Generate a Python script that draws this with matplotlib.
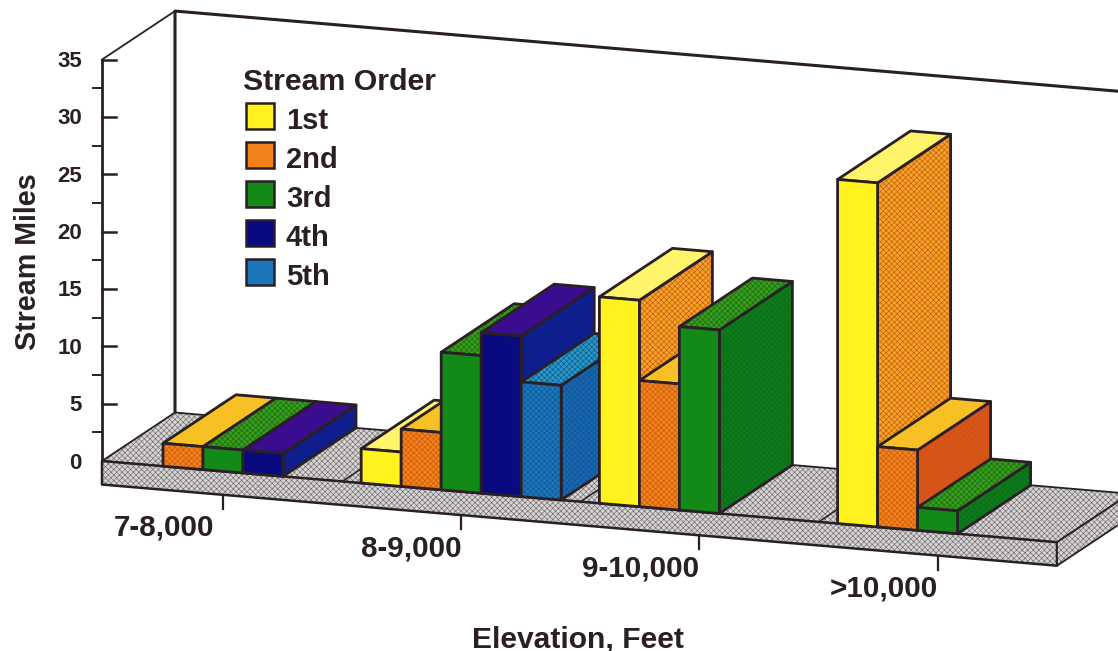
import matplotlib
matplotlib.use("Agg")
import matplotlib.pyplot as plt
from matplotlib.patches import Polygon, Rectangle

plt.rcParams['font.family'] = ['Liberation Sans', 'DejaVu Sans']
plt.rcParams['font.weight'] = 'bold'
plt.rcParams['hatch.linewidth'] = 0.45

# stream miles per elevation band, one list per stream order
categories = ['7-8,000', '8-9,000', '9-10,000', '>10,000']
orders = ['1st', '2nd', '3rd', '4th', '5th']
miles_1st = [0, 3, 18, 30]
miles_2nd = [2, 5, 11, 7]
miles_3rd = [2, 12, 16, 2]
miles_4th = [2, 14, 0, 0]
miles_5th = [0, 10, 0, 0]
major_ticks = [0, 5, 10, 15, 20, 25, 30, 35]
minor_ticks = [2.5, 7.5, 12.5, 17.5, 22.5, 27.5, 32.5]

front_col = ['#FFF21E', '#F2821A', '#138A18', '#0A0A80', '#1C76BC']
top_col = ['#FFF46A', '#F7C024', '#3E9A1C', '#3A0D8E', '#2898C4']
side_col = ['#F4A428', '#DC541C', '#0E7A1E', '#0E1E8C', '#1866B2']
# darker dots printed over some of the faces, None for the flat colours
dot_col = [None, '#C9570F', '#0C6E12', None, '#0F5590']
ink = '#2A1F24'


def project(slot, depth, value):
    # oblique projection of the fake 3d box: slot along the floor, depth 0-1, value in miles
    x = 123 + slot * 40 + depth * 73
    y = 462.8 + slot * 3.4 - depth * 48.5 - value * 11.47
    return (x, y)


def face(ax, corners, color, lw=2, dots=None, z=2):
    pts = [project(*c) for c in corners]
    ax.add_patch(Polygon(pts, closed=True, facecolor=color, edgecolor='none', zorder=z))
    if dots is not None:
        ax.add_patch(Polygon(pts, closed=True, facecolor='none', edgecolor=dots, linewidth=0,
                             hatch='xxxxxx', zorder=z))
    ax.add_patch(Polygon(pts, closed=True, facecolor='none', edgecolor=ink, linewidth=lw,
                         zorder=z, joinstyle='round'))


def draw_bar(ax, slot, value, order):
    s0, s1 = slot, slot + 1
    face(ax, [(s1, 0, 0), (s1, 1, 0), (s1, 1, value), (s1, 0, value)], side_col[order], dots=dot_col[order] or ('#C9570F' if order == 0 else None))
    face(ax, [(s0, 0, value), (s1, 0, value), (s1, 1, value), (s0, 1, value)], top_col[order], dots=dot_col[order] if order in (2, 4) else None)
    face(ax, [(s0, 0, 0), (s1, 0, 0), (s1, 0, value), (s0, 0, value)], front_col[order], dots=dot_col[order] if order in (1, 4) else None)


fig = plt.figure(figsize=(11.18, 6.51), dpi=100)
ax = fig.add_axes([0, 0, 1, 1])
ax.set_xlim(0, 1118)
ax.set_ylim(651, 0)
ax.axis('off')

floor_l, floor_r = -0.525, 23.35
slab = -2.05  # slab thickness in value units
floor_col = '#D6D4D4'
floor_dots = '#6E6A6A'

# wall outline
ax.plot(*zip(project(floor_l, 0, 35), project(floor_l, 1, 35)), color=ink, lw=1.3, zorder=1)
ax.plot(*zip(project(floor_l, 1, 0), project(floor_l, 1, 35), project(floor_r + 2, 1, 35)),
        color=ink, lw=2.2, zorder=1)
ax.plot(*zip(project(floor_l, 0, 35), project(floor_l, 0, 0)), color=ink, lw=2, zorder=1)

# axis ticks
for v in major_ticks:
    x, y = project(floor_l, 0, v)
    ax.plot([x, x + 14], [y, y], color=ink, lw=1.8, zorder=1)
    ax.text(82, y + 2, str(v), ha='right', va='center', fontsize=16, color=ink)
for v in minor_ticks:
    x, y = project(floor_l, 0, v)
    ax.plot([x - 9, x], [y, y], color=ink, lw=1.4, zorder=1)

# floor slab
face(ax, [(floor_l, 0, 0), (floor_r, 0, 0), (floor_r, 1, 0), (floor_l, 1, 0)], floor_col, 1.3, floor_dots, 1.5)
face(ax, [(floor_l, 0, slab), (floor_r, 0, slab), (floor_r, 0, 0), (floor_l, 0, 0)], floor_col, 1.8, floor_dots, 1.6)
face(ax, [(floor_r, 0, slab), (floor_r, 1, slab), (floor_r, 1, 0), (floor_r, 0, 0)], floor_col, 1.3, floor_dots, 1.6)

all_miles = [miles_1st, miles_2nd, miles_3rd, miles_4th, miles_5th]
group_step = 5.955

for g, name in enumerate(categories):
    start = g * group_step
    # floor divider between the bands
    if g > 0:
        ax.plot(*zip(project(start - 0.475, 0, 0), project(start - 0.475, 1, 0)), color=ink, lw=1.1, zorder=1.7)
    for o in range(len(orders)):
        if all_miles[o][g] > 0:
            draw_bar(ax, start + o, all_miles[o][g], o)
    tx, ty = project(start + 2.5, 0, slab)
    ax.plot([tx, tx], [ty, ty + 14], color=ink, lw=1.6, zorder=1)
    # first label sits a bit further left of its tick in the original
    ax.text(tx - (9 if g == 0 else 0), ty + 33, name, ha='right', va='center', fontsize=21.3, color=ink)

# legend
ax.text(243, 82, 'Stream Order', ha='left', va='center', fontsize=21.8, color=ink)
for o, name in enumerate(orders):
    ax.add_patch(Rectangle((246, 103 + o * 39), 28, 26, facecolor=front_col[o], edgecolor=ink, linewidth=1.8))
    ax.text(286, 121 + o * 39, name, ha='left', va='center', fontsize=21, color=ink)

ax.text(28, 262, 'Stream Miles', rotation=90, ha='center', va='center', fontsize=20.6, color=ink)
ax.text(578, 639, 'Elevation, Feet', ha='center', va='center', fontsize=21.6, color=ink)

fig.savefig('out.png', dpi=100)
